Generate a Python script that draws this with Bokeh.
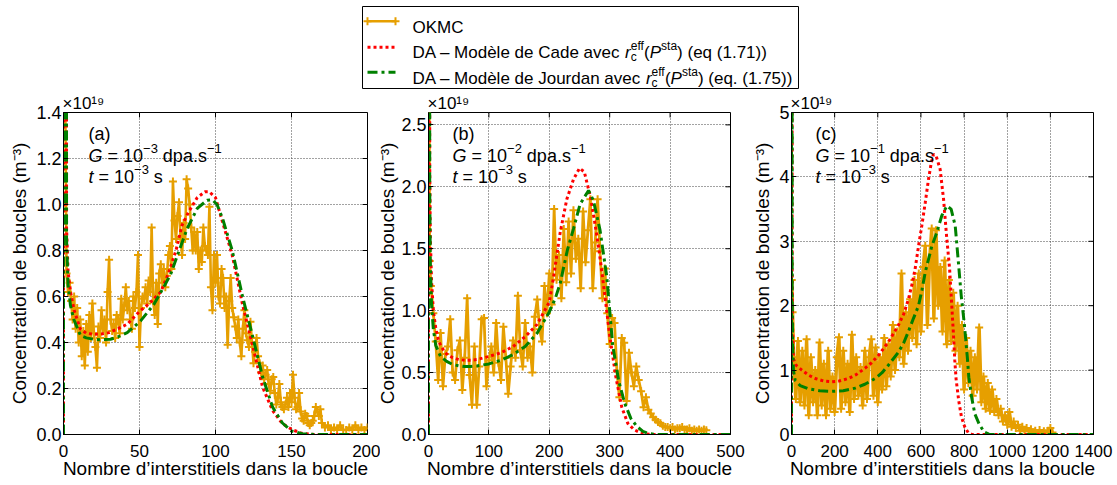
import math
from bokeh.plotting import figure
from bokeh.layouts import column, row
from bokeh.models import Range1d, FixedTicker, PrintfTickFormatter, Label
from bokeh.core.properties import value
from bokeh.embed import file_html
from bokeh.resources import INLINE

FONT = "Liberation Sans"
ORANGE = "#E69F00"
RED = "#FF0000"
GREEN = "#008000"

XLABEL = "Nombre d\u2019interstitiels dans la boucle"
YLABEL = "Concentration de boucles (m\u207b\u00b3)"
MULT = "\u00d710\u00b9\u2079"

# ---------------- ticks ----------------
A_XTICKS = [0, 50, 100, 150, 200]
A_YTICKS = [0.0, 0.2, 0.4, 0.6, 0.8, 1.0, 1.2, 1.4]
B_XTICKS = [0, 100, 200, 300, 400, 500]
B_YTICKS = [0.0, 0.5, 1.0, 1.5, 2.0, 2.5]
C_XTICKS = [0, 200, 400, 600, 800, 1000, 1200, 1400]
C_YTICKS = [0, 1, 2, 3, 4, 5]

# ---------------- panel (a) G = 1e-3 ----------------
A_OKMC_X = list(range(1, 171)) + list(range(172, 201, 2))
A_OKMC_Y = [
    1.60, 0.70, 0.62, 0.66, 0.58, 0.50, 0.60, 0.46, 0.55, 0.40,
    0.50, 0.34, 0.45, 0.30, 0.48, 0.36, 0.52, 0.42, 0.57, 0.44,
    0.38, 0.29, 0.47, 0.42, 0.54, 0.46, 0.50, 0.40, 0.62, 0.76,
    0.50, 0.45, 0.48, 0.42, 0.52, 0.50, 0.44, 0.59, 0.50, 0.56,
    0.64, 0.54, 0.58, 0.50, 0.46, 0.60, 0.55, 0.62, 0.78, 0.38,
    0.55, 0.60, 0.59, 0.64, 0.57, 0.67, 0.62, 0.90, 0.58, 0.52,
    0.66, 0.48, 0.70, 0.74, 0.66, 0.72, 0.64, 0.69, 0.78, 0.82,
    0.72, 1.10, 0.93, 0.85, 0.95, 1.01, 0.86, 0.78, 0.92, 0.85,
    1.11, 1.07, 1.00, 0.90, 0.80, 0.88, 0.80, 0.88, 0.72, 0.80,
    0.75, 0.90, 0.82, 0.80, 0.78, 0.99, 0.64, 0.54, 0.78, 0.66,
    0.78, 0.60, 0.57, 0.72, 0.68, 0.55, 0.60, 0.39, 0.58, 0.68,
    0.55, 0.51, 0.47, 0.42, 0.50, 0.40, 0.34, 0.46, 0.54, 0.44,
    0.41, 0.38, 0.49, 0.40, 0.31, 0.36, 0.42, 0.34, 0.31, 0.27,
    0.30, 0.24, 0.26, 0.28, 0.22, 0.19, 0.24, 0.25, 0.18, 0.13,
    0.16, 0.22, 0.14, 0.12, 0.11, 0.13, 0.16, 0.12, 0.18, 0.14,
    0.26, 0.16, 0.11, 0.12, 0.18, 0.10, 0.07, 0.06, 0.09, 0.08,
    0.05, 0.04, 0.05, 0.06, 0.08, 0.12, 0.10, 0.08, 0.11, 0.05,
    0.03, 0.04, 0.02, 0.03, 0.02, 0.04, 0.02, 0.02, 0.03, 0.02,
    0.04, 0.02, 0.03, 0.02, 0.03,
]
A_CADE_X = [0, 1, 2, 3, 4.6, 7, 11, 15, 20, 25, 30, 36, 42, 50, 57, 64, 69, 74, 78, 82.5,
            88, 93, 96, 100, 104.6, 111, 117.8, 124.3, 131, 137.5, 144, 150.7, 157, 165, 200]
A_CADE_Y = [0, 100, 0.90, 0.71, 0.62, 0.54, 0.46, 0.44, 0.436, 0.437, 0.443, 0.46, 0.48, 0.535,
            0.573, 0.62, 0.70, 0.80, 0.91, 0.97, 1.03, 1.055, 1.055, 1.03, 0.925, 0.78, 0.565,
            0.39, 0.206, 0.105, 0.047, 0.02, 0.005, 0.0, 0.0]
A_JOUR_X = [0, 1, 2, 3, 4.6, 6.8, 11.2, 15, 19.9, 25, 30.9, 36, 41.9, 50.6, 59.4, 65, 70.4, 75.9,
            81.4, 88, 94.5, 98, 101, 104.6, 111, 117.8, 124.3, 131, 137.5, 144, 150, 157, 165, 200]
A_JOUR_Y = [0, 100, 0.85, 0.65, 0.56, 0.50, 0.43, 0.42, 0.414, 0.412, 0.414, 0.425, 0.443, 0.493,
            0.565, 0.63, 0.695, 0.796, 0.896, 0.983, 1.019, 1.02, 1.0, 0.94, 0.80, 0.60, 0.43,
            0.25, 0.12, 0.05, 0.015, 0.003, 0.0, 0.0]

# ---------------- panel (b) G = 1e-2 ----------------
B_OKMC_X = [1, 2] + list(range(4, 464, 4))
B_OKMC_Y = [
    3.00, 1.40,
    1.20, 0.98, 0.75, 0.44, 0.82, 0.39, 0.65, 0.71, 0.93, 0.50,
    0.44, 0.68, 0.76, 0.36, 0.62, 1.10, 0.48, 0.24, 0.71, 0.24,
    0.55, 0.93, 0.94, 0.39, 0.60, 0.71, 0.50, 0.90, 0.58, 0.44,
    0.87, 0.62, 0.33, 0.55, 0.76, 0.62, 1.12, 0.68, 0.55, 0.90,
    0.62, 0.71, 0.50, 0.95, 1.09, 0.85, 0.75, 1.20, 0.98, 1.30,
    1.05, 1.82, 1.25, 1.45, 1.10, 1.66, 1.23, 1.72, 1.30, 1.81,
    1.42, 1.58, 1.18, 1.80, 1.39, 1.65, 1.90, 1.18, 1.55, 1.90,
    1.48, 1.10, 1.34, 0.98, 0.73, 0.94, 0.90, 0.51, 0.30, 0.78,
    0.74, 0.27, 0.66, 0.50, 0.39, 0.55, 0.44, 0.35, 0.22, 0.30,
    0.20, 0.17, 0.14, 0.12, 0.10, 0.09, 0.07, 0.06, 0.06, 0.05,
    0.06, 0.04, 0.05, 0.05, 0.06, 0.04, 0.04, 0.05, 0.03, 0.04,
    0.03, 0.04, 0.03, 0.04, 0.035,
]
B_CADE_X = [0, 1, 2, 3, 5, 8, 12, 16, 20, 25, 30, 40, 50, 60, 70, 80, 100, 120, 140, 160,
            180, 200, 207, 218, 229, 240, 250, 258, 268, 275, 282, 290, 300, 310, 320, 330,
            340, 350, 360, 370, 500]
B_CADE_Y = [0, 100, 2.2, 1.6, 1.25, 1.0, 0.86, 0.77, 0.72, 0.68, 0.65, 0.62, 0.605, 0.60, 0.60,
            0.605, 0.63, 0.66, 0.71, 0.79, 0.89, 1.07, 1.27, 1.63, 1.90, 2.06, 2.15, 2.12, 1.92,
            1.72, 1.50, 1.20, 0.80, 0.47, 0.22, 0.09, 0.04, 0.015, 0.005, 0.0, 0.0]
B_JOUR_X = [0, 1, 2, 3, 5, 8, 12, 20, 30, 40, 50, 60, 70, 80, 100, 120, 140, 160, 180, 200,
            210, 218, 230, 240, 251, 265, 273, 284, 295, 305, 315, 325, 335, 345, 355, 365, 375, 500]
B_JOUR_Y = [0, 100, 2.0, 1.4, 1.05, 0.85, 0.72, 0.63, 0.59, 0.565, 0.555, 0.55, 0.55, 0.553,
            0.57, 0.60, 0.645, 0.71, 0.82, 0.99, 1.1, 1.22, 1.49, 1.66, 1.86, 1.97, 1.89, 1.65,
            1.28, 0.72, 0.43, 0.25, 0.13, 0.065, 0.025, 0.008, 0.0, 0.0]

# ---------------- panel (c) G = 1e-1 ----------------
C_OKMC_X = [1, 5] + list(range(10, 1220, 10))
C_OKMC_Y = [
    2.40, 1.90,
    1.20, 0.55, 1.45, 0.50, 1.30, 0.45, 1.48, 0.30, 1.20, 0.50,
    1.00, 0.30, 1.43, 0.45, 1.10, 0.30, 1.30, 0.40, 0.90, 0.35,
    1.20, 1.51, 0.40, 1.30, 0.50, 1.10, 0.35, 1.55, 0.55, 1.20,
    0.60, 1.05, 0.45, 1.30, 0.55, 1.20, 1.48, 0.60, 1.35, 0.50,
    1.20, 0.70, 1.50, 0.75, 1.40, 0.90, 1.70, 1.00, 1.60, 1.20,
    2.50, 1.10, 1.90, 1.30, 2.10, 1.50, 2.40, 1.40, 2.50, 1.60,
    2.60, 2.93, 1.70, 2.70, 3.20, 1.80, 3.17, 2.00, 2.60, 1.60,
    2.70, 1.40, 2.40, 1.45, 2.20, 1.30, 2.00, 1.10, 1.70, 0.70,
    1.50, 0.80, 1.30, 0.60, 1.20, 0.70, 1.66, 0.50, 0.90, 0.40,
    0.80, 0.37, 0.70, 0.35, 0.55, 0.30, 0.40, 0.20, 0.30, 0.15,
    0.35, 0.12, 0.20, 0.10, 0.15, 0.06, 0.12, 0.05, 0.10, 0.05,
    0.08, 0.03, 0.06, 0.02, 0.07, 0.02, 0.05, 0.02, 0.06, 0.10,
    0.03,
]
C_CADE_X = [0, 1, 3, 5, 9, 20, 48, 80, 110, 150, 187, 220, 264, 300, 341, 370, 403, 450, 496,
            520, 542, 560, 573, 590, 604, 620, 635, 648, 658, 670, 689, 705, 720, 733, 743,
            750, 757, 763, 775, 788, 804, 820, 835, 850, 1400]
C_CADE_Y = [0, 100, 2.5, 1.7, 1.18, 1.08, 1.0, 0.92, 0.87, 0.83, 0.82, 0.83, 0.87, 0.93, 1.03,
            1.11, 1.23, 1.44, 1.70, 1.87, 2.10, 2.35, 2.57, 2.95, 3.24, 3.60, 3.96, 4.22, 4.35,
            4.33, 4.12, 3.65, 3.04, 2.57, 2.0, 1.6, 1.15, 0.86, 0.53, 0.27, 0.11, 0.025, 0.003,
            0.0, 0.0]
C_JOUR_X = [0, 1, 3, 5, 9, 17, 40, 79, 130, 187, 240, 295, 340, 388, 420, 450, 496, 520, 542,
            565, 589, 605, 620, 651, 674, 697, 720, 740, 759, 774, 787, 800, 807, 815, 822, 835,
            850, 869, 892, 915, 930, 1400]
C_JOUR_Y = [0, 100, 2.2, 1.4, 1.0, 0.84, 0.76, 0.71, 0.68, 0.67, 0.68, 0.72, 0.78, 0.87, 0.96,
            1.08, 1.28, 1.42, 1.60, 1.80, 2.0, 2.25, 2.52, 2.93, 3.14, 3.40, 3.55, 3.50, 3.24,
            2.66, 2.15, 1.75, 1.50, 1.20, 0.89, 0.58, 0.32, 0.17, 0.04, 0.005, 0.0, 0.0]

LEGEND_LABELS = ["OKMC", "DA \u2013 Mod\u00e8le de Cade avec ", "DA \u2013 Mod\u00e8le de Jourdan avec "]
LEGEND_TAILS = [" (eq (1.71))", " (eq. (1.75))"]

# ---------------- text width helper (Arial / Liberation Sans metrics) ----------------
CHAR_W = {' ': 278, '(': 333, ')': 333, '.': 278, '=': 584, '\u2013': 556, '\u2212': 584,
          '\u00d7': 584, 'A': 667, 'C': 722, 'D': 722, 'G': 778, 'J': 500, 'K': 667,
          'M': 833, 'O': 778, 'P': 667, 'a': 556, 'b': 556, 'c': 500, 'd': 556, 'e': 556,
          'f': 278, 'i': 222, 'l': 222, 'm': 833, 'n': 556, 'o': 556, 'p': 556, 'q': 556,
          'r': 333, 's': 500, 't': 278, 'u': 556, 'v': 500, '\u00e8': 556}


def tw(s, size):
    return sum(CHAR_W.get(ch, 556) for ch in s) * size / 1000.0


def split_lead(text, size):
    stripped = text.lstrip(' ')
    return stripped, tw(text[:len(text) - len(stripped)], size)


def add_label_runs(p, x, y, x0, y0, runs):
    cx = x0
    for text, style, size, rise, adv in runs:
        t, lead = split_lead(text, size)
        p.add_layout(Label(x=x, y=y, x_units="data", y_units="data", x_offset=cx + lead,
                           y_offset=y0 + rise, text=t, text_font=FONT,
                           text_font_size=f"{size}px", text_font_style=style,
                           text_baseline="alphabetic", text_align="left", text_color="black"))
        if adv:
            cx += tw(text, size)


def style_axis(ax, ticks, fmt, tick_size, tick_standoff, label_standoff):
    ax.ticker = FixedTicker(ticks=ticks)
    if fmt:
        ax.formatter = PrintfTickFormatter(format=fmt)
    ax.major_tick_in = 5
    ax.major_tick_out = 0
    ax.minor_tick_line_color = None
    ax.axis_line_color = "black"
    ax.major_tick_line_color = "black"
    ax.major_label_text_font = FONT
    ax.major_label_text_font_size = tick_size
    ax.major_label_text_color = "black"
    ax.major_label_standoff = tick_standoff
    ax.axis_label_text_font = FONT
    ax.axis_label_text_font_size = "19px"
    ax.axis_label_text_font_style = "normal"
    ax.axis_label_text_color = "black"
    ax.axis_label_standoff = label_standoff


def make_panel(width, bl, br, xr, yr, xt, yt, yfmt, ok, cade, jour, tag, gexp, xoff,
               ylab_standoff, okw, margin=None):
    p = figure(width=width, height=395, x_range=Range1d(*xr), y_range=Range1d(*yr),
               output_backend="svg", toolbar_location=None,
               min_border_left=bl, min_border_right=br, min_border_top=22, min_border_bottom=51)
    if margin is not None:
        p.margin = margin
    p.background_fill_color = "white"
    p.border_fill_color = "white"
    p.border_fill_alpha = 0
    p.outline_line_color = "black"
    p.outline_line_width = 1
    style_axis(p.xaxis[0], xt, None, "17px", 10, -2)
    style_axis(p.yaxis[0], yt, yfmt, "18px", 2, ylab_standoff)
    p.xaxis[0].axis_label = XLABEL
    p.yaxis[0].axis_label = YLABEL
    p.grid.grid_line_color = "#444444"
    p.grid.grid_line_dash = "1 2"
    p.grid.grid_line_width = 1

    # multiplier above the frame
    p.title.text = MULT
    p.title.align = "left"
    p.title.offset = -1
    p.title.standoff = 0
    p.title.text_font = FONT
    p.title.text_font_size = "17px"
    p.title.text_font_style = "normal"
    p.title.text_color = "black"

    p.line(ok[0], ok[1], line_color=ORANGE, line_width=okw)
    p.scatter(ok[0], ok[1], marker="cross", size=8, line_color=ORANGE, line_width=2)
    p.line(cade[0], cade[1], line_color=RED, line_width=3, line_dash="3 3")
    p.line(jour[0], jour[1], line_color=GREEN, line_width=3, line_dash="10 4 3 4")

    # inward ticks on the top and right sides of the box
    p.ray(x=xt, y=[yr[1]] * len(xt), length=5, length_units="screen", angle=-math.pi / 2,
          line_color="black", line_width=1)
    p.ray(x=[xr[1]] * len(yt), y=yt, length=5, length_units="screen", angle=math.pi,
          line_color="black", line_width=1)

    # panel annotation
    add_label_runs(p, xr[0], yr[1], xoff, -21, [(tag, "normal", 18, 0, True)])
    add_label_runs(p, xr[0], yr[1], xoff, -43, [
        ("G", "italic", 18, 0, True),
        (" = 10", "normal", 18, 0, True),
        ("\u2212" + gexp, "normal", 13, 7, True),
        (" dpa.s", "normal", 18, 0, True),
        ("\u22121", "normal", 13, 7, True),
    ])
    add_label_runs(p, xr[0], yr[1], xoff, -64, [
        ("t", "italic", 18, 0, True),
        (" = 10", "normal", 18, 0, True),
        ("\u22123", "normal", 13, 7, True),
        (" s", "normal", 18, 0, True),
    ])
    return p


pa = make_panel(380, 63, 13, (0, 200), (0, 1.4), A_XTICKS, A_YTICKS, "%.1f",
                (A_OKMC_X, A_OKMC_Y), (A_CADE_X, A_CADE_Y), (A_JOUR_X, A_JOUR_Y), "(a)", "3", 25,
                3, 2.6)
pb = make_panel(373, 56, 15, (0, 500), (0, 2.6), B_XTICKS, B_YTICKS, "%.1f",
                (B_OKMC_X, B_OKMC_Y), (B_CADE_X, B_CADE_Y), (B_JOUR_X, B_JOUR_Y), "(b)", "2", 24,
                0, 2.8, margin=(0, 0, 0, -8))
pc = make_panel(372, 46, 24, (0, 1400), (0, 5), C_XTICKS, C_YTICKS, "%d",
                (C_OKMC_X, C_OKMC_Y), (C_CADE_X, C_CADE_Y), (C_JOUR_X, C_JOUR_Y), "(c)", "1", 24,
                3, 3.4)

# ---------------- legend ----------------
lg = figure(width=1117, height=90, x_range=Range1d(0, 1117), y_range=Range1d(90, 0),
            output_backend="svg", toolbar_location=None, x_axis_location=None,
            y_axis_location=None, min_border=0)
lg.grid.visible = False
lg.outline_line_color = None
lg.background_fill_color = "white"
lg.border_fill_color = "white"
lg.quad(left=[362], right=[798], top=[6], bottom=[88], fill_color=None,
        line_color="black", line_width=1)
lg.line([367, 395], [20.7, 20.7], line_color=ORANGE, line_width=2.5)
lg.scatter([367, 395], [20.7, 20.7], marker="cross", size=8, line_color=ORANGE, line_width=2)
lg.line([367, 395], [46.7, 46.7], line_color=RED, line_width=3, line_dash="3 3")
lg.line([367, 395], [71.7, 71.7], line_color=GREEN, line_width=3, line_dash="10 4 3 4")


def lg_runs(x0, base, runs):
    cx = x0
    for text, style, size, rise, adv in runs:
        t, lead = split_lead(text, size)
        lg.text(x=[cx + lead], y=[base - rise], text=[t], text_font=value(FONT),
                text_font_size=f"{size}px", text_font_style=style,
                text_baseline="alphabetic", text_align="left", text_color="black")
        if adv:
            cx += tw(text, size)


LS = 17
SS = 12
lg_runs(412, 27, [(LEGEND_LABELS[0], "normal", LS, 0, True)])
for i, base in enumerate([52, 78]):
    lg_runs(412, base, [
        (LEGEND_LABELS[i + 1], "normal", LS, 0, True),
        ("r", "italic", LS, 0, True),
        ("c", "normal", SS, -4, False),
        ("eff", "normal", SS, 7, True),
        ("(", "normal", LS, 0, True),
        ("P", "italic", LS, 0, True),
        ("sta", "normal", SS, 7, True),
        (")", "normal", LS, 0, True),
        (LEGEND_TAILS[i], "normal", LS, 0, True),
    ])

layout = column(lg, row(pa, pb, pc))
open("out.html", "w").write(file_html(layout, INLINE))
